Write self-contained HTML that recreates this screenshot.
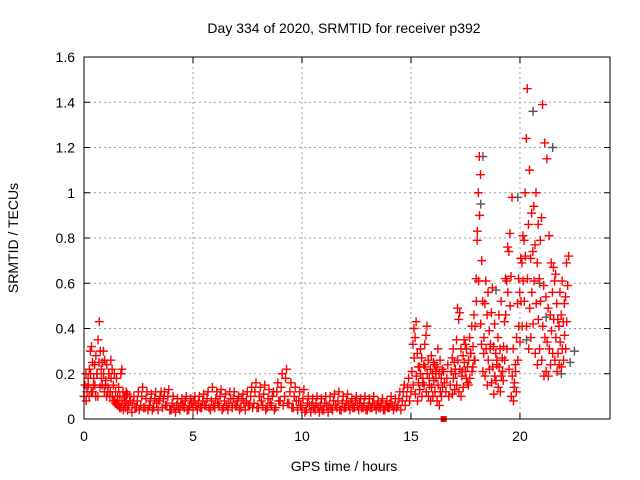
<!DOCTYPE html>
<html><head><meta charset="utf-8"><style>
body{margin:0;background:#fff}
svg{display:block;font-family:"Liberation Sans",sans-serif}
</style></head><body>
<svg id="chart" width="640" height="480" viewBox="0 0 640 480" xmlns="http://www.w3.org/2000/svg">
<rect width="640" height="480" fill="#fff"/>
<text x="344" y="33" font-size="14" text-anchor="middle">Day 334 of 2020, SRMTID for receiver p392</text>
<text x="344" y="471" font-size="14" text-anchor="middle">GPS time / hours</text>
<text x="18" y="238" font-size="14" text-anchor="middle" transform="rotate(-90 18 238)">SRMTID / TECUs</text>
<g id="grid"></g><g id="axes"></g><g id="gray"></g><g id="red"></g>
<rect x="84" y="57" width="526" height="362" fill="none" stroke="#000" stroke-width="1"/>
</svg>
<script>
const xTicks=[0,5,10,15,20];
const yTicks=[0,0.2,0.4,0.6,0.8,1,1.2,1.4,1.6];
const yTickLabels=["0","0.2","0.4","0.6","0.8","1","1.2","1.4","1.6"];
const redTimes=[0,0.1,0.2,0.3,0.4,0.5,0.6,0.7,0.8,0.9,1.0,1.1,1.2,1.3,1.4,1.5,1.6,1.7,1.8,1.9,2.0,2.2,2.4,2.6,2.8,3.0,3.2,3.4,3.6,3.8,4.0,4.2,4.4,4.6,4.8,5.0,5.2,5.4,5.6,5.8,6.0,6.2,6.4,6.6,6.8,7.0,7.2,7.4,7.6,7.8,8.0,8.2,8.4,8.6,8.8,9.0,9.2,9.4,9.6,9.8,10.0,10.2,10.4,10.6,10.8,11.0,11.2,11.4,11.6,11.8,12.0,12.2,12.4,12.6,12.8,13.0,13.2,13.4,13.6,13.8,14.0,14.2,14.4,14.6,14.8,15.0,15.1,15.2,15.3,15.4,15.5,15.6,15.7,15.8,15.9,16.0,16.1,16.2,16.3,16.4,16.6,16.8,16.9,17.0,17.1,17.2,17.3,17.4,17.5,17.6,17.7,17.8,17.9,18.0,18.1,18.2,18.3,18.4,18.5,18.6,18.7,18.8,18.9,19.0,19.1,19.2,19.3,19.4,19.5,19.6,19.7,19.8,19.9,20.0,20.1,20.2,20.3,20.4,20.5,20.6,20.7,20.8,20.9,21.0,21.1,21.2,21.3,21.4,21.5,21.6,21.7,21.8,21.9,22.0,22.1,22.2,22.3,22.4,22.5,22.6];
const redValues=[
[0.1,0.15,0.2,0.12],[0.08,0.14,0.18,0.1],[0.15,0.22,0.3,0.12],[0.2,0.32,0.25,0.15],[0.12,0.18,0.24,0.1],[0.15,0.28,0.2,0.1],[0.2,0.35,0.25,0.14],[0.43,0.3,0.22,0.15],[0.18,0.25,0.3,0.12],[0.2,0.26,0.15,0.1],[0.17,0.24,0.12,0.2],[0.14,0.2,0.1,0.26],[0.12,0.18,0.22,0.08],[0.1,0.15,0.2,0.07],[0.08,0.12,0.18,0.06],[0.07,0.1,0.14,0.05],[0.06,0.1,0.2,0.22],[0.05,0.08,0.12,0.1],[0.04,0.07,0.1,0.12],[0.05,0.08,0.11,0.06],[0.04,0.06,0.1,0.08],[0.03,0.07,0.1,0.05],[0.05,0.08,0.12,0.04],[0.06,0.1,0.14,0.05],[0.05,0.09,0.12,0.04],[0.06,0.08,0.11,0.04],[0.05,0.09,0.12,0.07],[0.04,0.08,0.1,0.12],[0.05,0.09,0.12,0.06],[0.06,0.1,0.13,0.04],[0.04,0.07,0.1,0.05],[0.03,0.06,0.09,0.05],[0.04,0.07,0.09,0.06],[0.05,0.08,0.1,0.04],[0.04,0.06,0.09,0.07],[0.05,0.08,0.1,0.06],[0.04,0.07,0.1,0.05],[0.05,0.08,0.11,0.06],[0.06,0.09,0.12,0.05],[0.04,0.08,0.14,0.06],[0.05,0.09,0.12,0.07],[0.06,0.1,0.13,0.04],[0.05,0.08,0.11,0.06],[0.04,0.07,0.12,0.09],[0.05,0.09,0.12,0.06],[0.06,0.08,0.1,0.04],[0.05,0.09,0.11,0.07],[0.04,0.08,0.12,0.06],[0.06,0.1,0.14,0.05],[0.07,0.12,0.16,0.05],[0.05,0.1,0.14,0.08],[0.06,0.11,0.15,0.04],[0.05,0.09,0.13,0.07],[0.06,0.1,0.12,0.04],[0.05,0.12,0.16,0.08],[0.08,0.14,0.2,0.06],[0.1,0.18,0.22,0.07],[0.07,0.12,0.16,0.05],[0.05,0.1,0.14,0.08],[0.04,0.08,0.12,0.06],[0.05,0.09,0.13,0.03],[0.04,0.07,0.1,0.06],[0.03,0.06,0.09,0.05],[0.04,0.07,0.1,0.05],[0.03,0.06,0.09,0.04],[0.04,0.07,0.1,0.06],[0.03,0.06,0.1,0.05],[0.04,0.08,0.11,0.06],[0.05,0.08,0.12,0.04],[0.04,0.07,0.1,0.05],[0.05,0.08,0.11,0.06],[0.04,0.07,0.09,0.05],[0.05,0.08,0.1,0.06],[0.04,0.07,0.09,0.05],[0.05,0.07,0.1,0.04],[0.04,0.06,0.09,0.05],[0.05,0.07,0.1,0.06],[0.04,0.06,0.08,0.05],[0.05,0.07,0.09,0.04],[0.04,0.06,0.08,0.05],[0.05,0.07,0.1,0.06],[0.04,0.06,0.09,0.05],[0.06,0.09,0.12,0.04],[0.08,0.12,0.15,0.06],[0.1,0.14,0.18,0.08],
[0.12,0.21,0.33,0.4],[0.15,0.27,0.36,0.43],[0.11,0.19,0.29,0.23],[0.08,0.16,0.23,0.31],[0.13,0.2,0.27,0.16],[0.1,0.18,0.24,0.33],[0.15,0.23,0.37,0.41],[0.12,0.2,0.26,0.18],[0.1,0.15,0.22,0.28],[0.08,0.14,0.2,0.25],[0.1,0.17,0.24,0.21],[0.12,0.18,0.23,0.31],[0.08,0.15,0.2,0.26],[0.06,0.12,0.18,0.22],[0.1,0.14,0.21,0.16],[0.12,0.18,0.24,0.1],[0.15,0.21,0.27,0.31],[0.11,0.18,0.25,0.22],[0.13,0.2,0.35,0.49],[0.15,0.26,0.44,0.47],[0.12,0.22,0.31,0.19],[0.1,0.21,0.28,0.35],[0.14,0.25,0.33,0.18],[0.21,0.31,0.23,0.15],[0.16,0.26,0.36,0.29],[0.18,0.29,0.41,0.23],[0.21,0.32,0.46,0.26],[0.26,0.41,0.62,0.79],[0.52,0.83,1.0,1.16],[0.61,0.9,1.08,0.33],[0.42,0.7,0.52,0.29],[0.21,0.36,0.51,0.61],[0.19,0.31,0.46,0.56],[0.15,0.26,0.39,0.31],[0.22,0.33,0.47,0.58],[0.16,0.23,0.32,0.42],[0.11,0.19,0.29,0.24],[0.17,0.26,0.36,0.46],[0.14,0.23,0.31,0.52],[0.12,0.19,0.27,0.17],[0.21,0.32,0.43,0.62],[0.26,0.46,0.61,0.76],[0.31,0.56,0.74,0.82],[0.22,0.5,0.63,0.98],[0.1,0.19,0.31,0.14],[0.08,0.16,0.24,0.12],[0.21,0.36,0.51,0.62],[0.26,0.41,0.56,0.71],[0.34,0.52,0.69,0.81],[0.41,0.61,0.79,1.0],[0.52,0.72,1.24,1.46],[0.41,0.62,0.86,1.1],[0.31,0.49,0.71,0.91],[0.36,0.56,0.74,0.94],[0.42,0.61,0.77,1.0],[0.29,0.51,0.69,0.86],[0.24,0.44,0.62,0.79],[0.31,0.52,0.89,1.39],[0.26,0.41,0.59,1.22],[0.19,0.36,0.54,1.15],[0.21,0.34,0.49,0.81],[0.19,0.31,0.46,0.69],[0.24,0.39,0.56,0.67],[0.29,0.44,0.61,0.64],[0.26,0.36,0.51,0.44],[0.21,0.29,0.41,0.56],[0.24,0.34,0.46,0.61],[0.23,0.31,0.43,0.51],[0.26,0.37,0.54,0.69],[0.31,0.43,0.59,0.72]];
const grayTimes=[18.2,18.3,18.9,19.9,20.3,20.6,20.9,21.2,21.5,21.9,22.3,22.5];
const grayValues=[0.95,1.16,0.57,0.98,0.35,1.36,0.6,0.45,1.2,0.2,0.25,0.3];
const zeroTimes=[16.5];
const zeroValues=[0];

const X0=84,X1=610,Y0=419,Y1=57,XMAX=24.13,YMAX=1.6;
const xs=t=>X0+(X1-X0)*t/XMAX;
const ys=v=>Y0-(Y0-Y1)*v/YMAX;
const NS="http://www.w3.org/2000/svg";
function mk(tag,attrs,parent){const e=document.createElementNS(NS,tag);for(const k in attrs)e.setAttribute(k,attrs[k]);parent.appendChild(e);return e;}
const grid=document.getElementById('grid'),axes=document.getElementById('axes');
xTicks.forEach(t=>{
  const x=xs(t);
  if(t>0){const g=mk('line',{x1:x,x2:x,y1:Y1,y2:Y0,stroke:'#a0a0a0','stroke-dasharray':'2,3'},grid);
  
  }
  mk('line',{x1:x,x2:x,y1:Y0,y2:Y0-6,stroke:'#000'},axes);
  mk('line',{x1:x,x2:x,y1:Y1,y2:Y1+6,stroke:'#000'},axes);
  const l=mk('text',{x:x,y:Y0+22,'font-size':14,'text-anchor':'middle'},axes);
  l.textContent=t;
  
  
});
yTicks.forEach((v,i)=>{
  const y=ys(v);
  if(v>0&&v<YMAX){const g=mk('line',{x1:X0,x2:X1,y1:y,y2:y,stroke:'#a0a0a0','stroke-dasharray':'2,3'},grid);
  
  }
  mk('line',{x1:X0,x2:X0+6,y1:y,y2:y,stroke:'#000'},axes);
  mk('line',{x1:X1,x2:X1-6,y1:y,y2:y,stroke:'#000'},axes);
  const l=mk('text',{x:X0-9,y:y+5,'font-size':14,'text-anchor':'end'},axes);
  l.textContent=yTickLabels[i];
  
  
});
function plus(parent,t,v,color){
  const x=xs(t),y=ys(v);
  const p=mk('path',{d:`M${x-4.5},${y}h9M${x},${y-4.5}v9`,stroke:color,'stroke-width':1.4,fill:'none'},parent);
  
  
}
const gray=document.getElementById('gray'),red=document.getElementById('red');
grayTimes.forEach((t,i)=>plus(gray,t,grayValues[i],'#555'));
redTimes.forEach((t,i)=>{
  const vals=redValues[i];
  if(!vals)return;
  vals.forEach((v,j)=>plus(red,t+j*0.045,v,'#ff0000'));
});
zeroTimes.forEach((t,i)=>{
  const r=mk('rect',{x:xs(t)-3,y:ys(zeroValues[i])-3,width:6,height:6,fill:'#ff0000'},red);
  
  
});
</script>
</body></html>
